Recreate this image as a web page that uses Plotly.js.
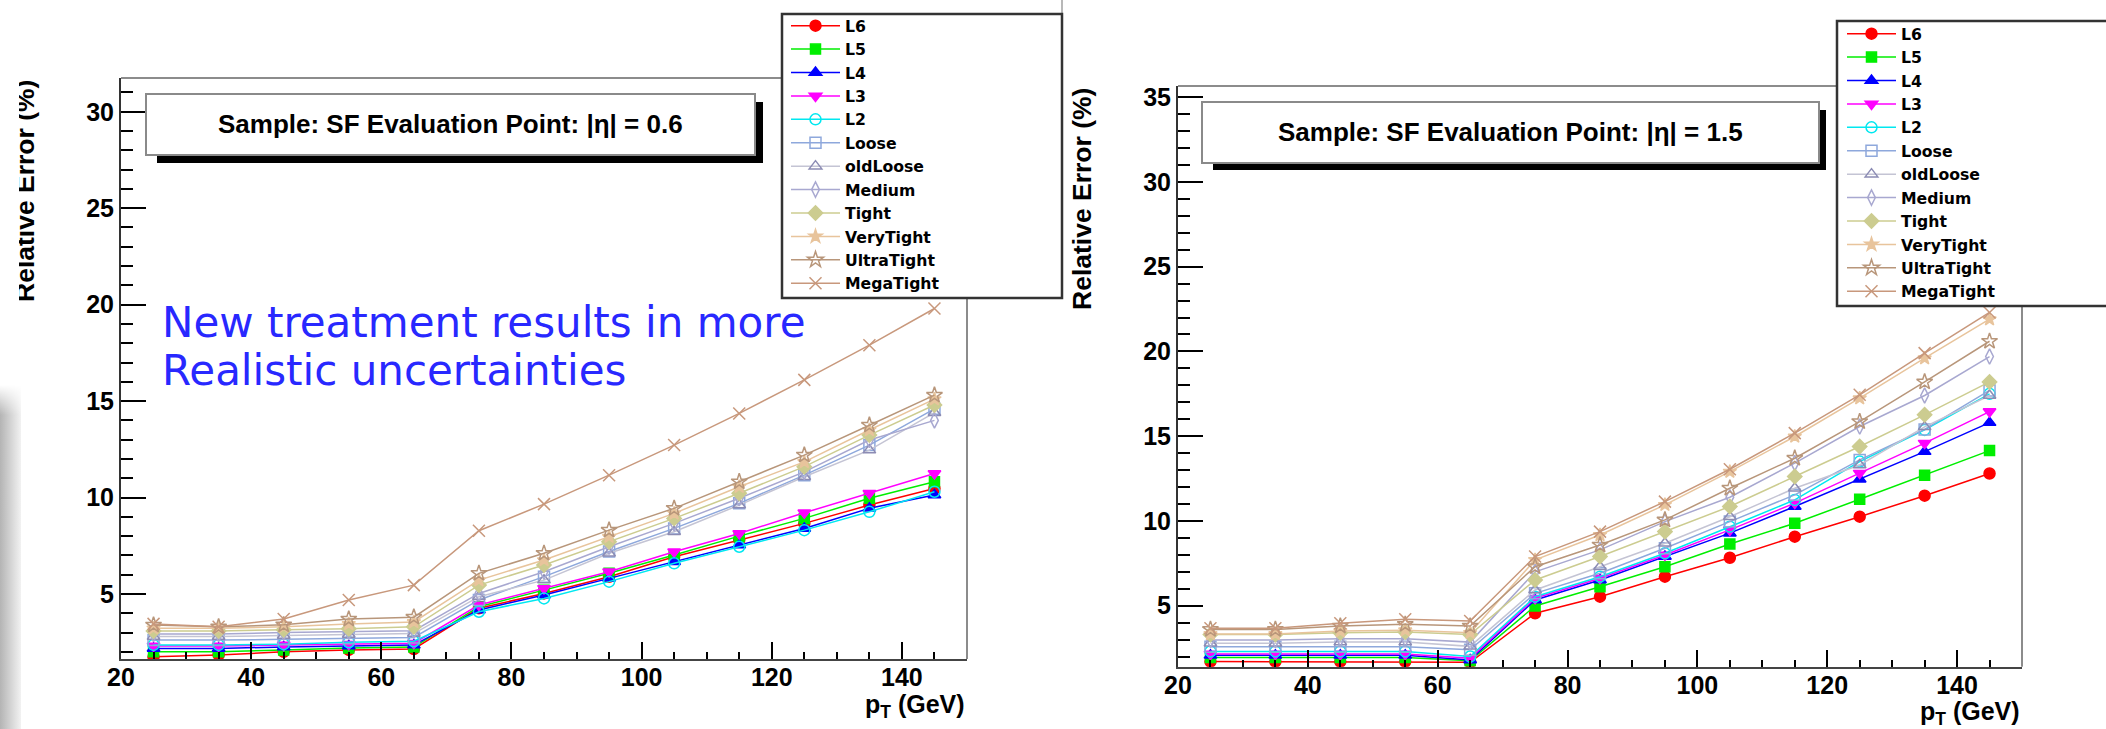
<!DOCTYPE html>
<html>
<head>
<meta charset="utf-8">
<script src="https://cdn.plot.ly/plotly-3.0.1.min.js"></script>
<style>
html,body{margin:0;padding:0;background:#fff;}
#wrap{position:relative;width:2106px;height:729px;overflow:hidden;}
#chart{position:absolute;left:0;top:0;width:2106px;height:729px;}
#clip{position:absolute;left:0;top:60px;width:19px;height:330px;background:#fff;z-index:5;}
#grad{position:absolute;left:0;top:385px;width:21px;height:344px;z-index:5;
 background:linear-gradient(to right,#b4b4b4,#f2f2f2);
 -webkit-mask-image:linear-gradient(to bottom,rgba(0,0,0,0),#000 30px);mask-image:linear-gradient(to bottom,rgba(0,0,0,0),#000 30px);}
</style>
</head>
<body>
<div id="wrap"><div id="chart"></div><div id="clip"></div><div id="grad"></div></div>
<script>
// ---------------- data ----------------
const pT = [25, 35, 45, 55, 65, 75, 85, 95, 105, 115, 125, 135, 145];
const seriesNames = ["L6", "L5", "L4", "L3", "L2", "Loose", "oldLoose", "Medium", "Tight", "VeryTight", "UltraTight", "MegaTight"];

// |eta| = 0.6
const eta06_L6         = [1.75, 1.84, 2.00, 2.10, 2.15, 4.26, 5.03, 5.89, 6.93, 7.80, 8.66, 9.61, 10.47];
const eta06_L5         = [2.00, 2.00, 2.10, 2.20, 2.25, 4.34, 5.20, 6.07, 7.02, 8.00, 8.92, 9.96, 10.82];
const eta06_L4         = [2.18, 2.18, 2.25, 2.30, 2.35, 4.17, 4.95, 5.81, 6.67, 7.54, 8.40, 9.44, 10.13];
const eta06_L3         = [2.30, 2.30, 2.35, 2.40, 2.45, 4.43, 5.29, 6.15, 7.19, 8.14, 9.21, 10.22, 11.25];
const eta06_L2         = [2.36, 2.36, 2.40, 2.50, 2.55, 4.08, 4.77, 5.64, 6.59, 7.45, 8.31, 9.26, 10.30];
const eta06_Loose      = [2.61, 2.61, 2.65, 2.70, 2.75, 4.69, 5.90, 7.20, 8.40, 9.70, 11.16, 12.72, 14.60];
const eta06_oldLoose   = [2.79, 2.79, 2.85, 2.90, 2.95, 4.86, 5.72, 7.11, 8.23, 9.61, 11.08, 12.46, 14.40];
const eta06_Medium     = [2.93, 2.93, 3.00, 3.05, 3.10, 5.03, 6.15, 7.45, 8.66, 9.96, 11.33, 12.98, 14.00];
const eta06_Tight      = [3.08, 3.08, 3.15, 3.20, 3.30, 5.46, 6.50, 7.71, 8.92, 10.22, 11.60, 13.24, 14.80];
const eta06_VeryTight  = [3.22, 3.22, 3.30, 3.45, 3.55, 5.72, 6.76, 7.97, 9.18, 10.56, 11.85, 13.50, 15.10];
const eta06_UltraTight = [3.39, 3.30, 3.40, 3.70, 3.80, 6.07, 7.11, 8.31, 9.44, 10.82, 12.20, 13.75, 15.31];
const eta06_MegaTight  = [3.45, 3.30, 3.70, 4.69, 5.46, 8.28, 9.66, 11.16, 12.72, 14.36, 16.10, 17.90, 19.80];

// |eta| = 1.5
const eta15_L6         = [1.70, 1.70, 1.70, 1.70, 1.66, 4.55, 5.53, 6.71, 7.83, 9.07, 10.25, 11.49, 12.80];
const eta15_L5         = [1.95, 1.95, 1.95, 1.95, 1.75, 4.98, 6.12, 7.30, 8.64, 9.86, 11.28, 12.70, 14.15];
const eta15_L4         = [2.07, 2.07, 2.07, 2.07, 1.80, 5.34, 6.52, 7.90, 9.28, 10.85, 12.46, 14.09, 15.80];
const eta15_L3         = [2.15, 2.15, 2.15, 2.15, 1.90, 5.44, 6.62, 7.99, 9.47, 11.05, 12.82, 14.59, 16.45];
const eta15_L2         = [2.30, 2.30, 2.30, 2.30, 2.00, 5.53, 6.71, 8.09, 9.66, 11.24, 13.50, 15.37, 17.50];
const eta15_Loose      = [2.58, 2.58, 2.58, 2.58, 2.40, 5.73, 6.91, 8.39, 9.96, 11.54, 13.60, 15.40, 17.70];
const eta15_oldLoose   = [2.78, 2.78, 2.85, 2.85, 2.60, 5.93, 7.30, 8.68, 10.25, 11.93, 13.30, 15.55, 17.40];
const eta15_Medium     = [2.98, 2.98, 3.05, 3.05, 2.85, 7.00, 8.29, 9.96, 11.40, 13.41, 15.57, 17.40, 19.70];
const eta15_Tight      = [3.30, 3.30, 3.40, 3.45, 3.30, 6.52, 7.90, 9.37, 10.85, 12.62, 14.39, 16.26, 18.20];
const eta15_VeryTight  = [3.33, 3.33, 3.50, 3.55, 3.40, 7.70, 9.17, 10.95, 12.91, 14.98, 17.24, 19.60, 21.90];
const eta15_UltraTight = [3.60, 3.60, 3.80, 3.90, 3.80, 7.30, 8.58, 10.06, 11.93, 13.70, 15.86, 18.20, 20.60];
const eta15_MegaTight  = [3.67, 3.67, 3.96, 4.20, 4.10, 7.90, 9.37, 11.14, 13.05, 15.18, 17.44, 19.90, 22.30];

const xTickVals = [20, 40, 60, 80, 100, 120, 140];
const yTickVals06 = [5, 10, 15, 20, 25, 30];
const yTickVals15 = [5, 10, 15, 20, 25, 30, 35];
const panelTitles = ["Sample: SF Evaluation Point: |η| = 0.6", "Sample: SF Evaluation Point: |η| = 1.5"];
const yTitle = "Relative Error (%)";
const xTitle = "p<sub>T</sub> (GeV)";
const noteLines = ["New treatment results in more", "Realistic uncertainties"];

// ---------------- styles ----------------
const W = 2106, H = 729;
const px = v => v / W;
const py = v => 1 - v / H;

const styles = [
  {color: "#ff0000", symbol: "circle", size: 11},
  {color: "#00ee00", symbol: "square", size: 10},
  {color: "#0000ff", symbol: "triangle-up", size: 11},
  {color: "#ff00ff", symbol: "triangle-down", size: 11},
  {color: "#00e8f0", symbol: "circle-open", size: 11},
  {color: "#8ea8dc", symbol: "square-open", size: 11},
  {color: "#8c8cb4", symbol: "triangle-up-open", size: 11, line: "#c4c4d4"},
  {color: "#a8a8d0", symbol: "diamond-tall-open", size: 11},
  {color: "#cccc90", symbol: "diamond", size: 11},
  {color: "#e8c49c", symbol: "star", size: 10},
  {color: "#b8967a", symbol: "star-open", size: 12},
  {color: "#c8987c", symbol: "x-thin-open", size: 12}
];

const left = [eta06_L6, eta06_L5, eta06_L4, eta06_L3, eta06_L2, eta06_Loose, eta06_oldLoose, eta06_Medium, eta06_Tight, eta06_VeryTight, eta06_UltraTight, eta06_MegaTight];
const right = [eta15_L6, eta15_L5, eta15_L4, eta15_L3, eta15_L2, eta15_Loose, eta15_oldLoose, eta15_Medium, eta15_Tight, eta15_VeryTight, eta15_UltraTight, eta15_MegaTight];

const traces = [];
function addTraces(vals, xa, ya, leg) {
  vals.forEach((ys, i) => {
    const s = styles[i];
    traces.push({
      type: "scatter", mode: "lines+markers", name: seriesNames[i],
      x: pT, y: ys, xaxis: xa, yaxis: ya, legend: leg,
      line: {color: s.line || s.color, width: 1.5},
      marker: {color: s.color, symbol: s.symbol, size: s.size, line: {color: s.color, width: 1.5}},
      hoverinfo: "x+y+name"
    });
  });
}
addTraces(left, "x", "y", "legend");
addTraces(right, "x2", "y2", "legend2");

const tickFont = {family: "Liberation Sans, Arial, sans-serif", size: 25, color: "#000", weight: "bold"};
function xAxis(domain, anchor) {
  return {
    domain: domain, anchor: anchor, range: [20, 150], showgrid: false, zeroline: false,
    tickmode: "array", tickvals: xTickVals, ticktext: xTickVals.map(String),
    ticks: "inside", ticklen: 17, tickwidth: 1.5, tickcolor: "#000",
    minor: {tickmode: "linear", tick0: 0, dtick: 5, ticks: "inside", ticklen: 7, tickwidth: 1.5, tickcolor: "#000", showgrid: false},
    showline: true, linecolor: "#444", linewidth: 2, mirror: false,
    ticklabelstandoff: -5,
    tickfont: tickFont, fixedrange: true
  };
}
function yAxis(domain, anchor, range, vals) {
  return {
    domain: domain, anchor: anchor, range: range, showgrid: false, zeroline: false,
    tickmode: "array", tickvals: vals, ticktext: vals.map(String),
    ticks: "inside", ticklen: 25, tickwidth: 1.5, tickcolor: "#000",
    minor: {tickmode: "linear", tick0: 0, dtick: 1, ticks: "inside", ticklen: 12, tickwidth: 1.5, tickcolor: "#000", showgrid: false},
    showline: true, linecolor: "#333", linewidth: 2, mirror: false,
    tickfont: tickFont, fixedrange: true
  };
}

const shapes = [];
function rect(x0, y0, x1, y1, fill, lineColor, lw) {
  shapes.push({type: "rect", xref: "paper", yref: "paper", x0: px(x0), x1: px(x1), y0: py(y1), y1: py(y0),
    fillcolor: fill, line: {color: lineColor, width: lw}, layer: "above"});
}
function seg(x0, y0, x1, y1, color, w, layer) {
  shapes.push({type: "line", xref: "paper", yref: "paper", x0: px(x0), x1: px(x1), y0: py(y0), y1: py(y1),
    line: {color: color, width: w}, layer: layer || "below"});
}
// frame top / right edges (lighter than the axes)
seg(121, 78, 967, 78, "#8c8c8c", 2);
seg(967, 78, 967, 659, "#8c8c8c", 2);
seg(1178, 86, 2022, 86, "#8c8c8c", 2);
seg(2022, 86, 2022, 666.7, "#8c8c8c", 2);
// edge of the right-hand picture
seg(1062, 0, 1062, 296, "#b8b8b8", 2);
// title boxes with shadow
rect(157, 102, 763, 163, "#000", "#000", 0);
rect(146, 94, 755, 155, "#fff", "#8a8a8a", 2);
rect(1213, 110, 1826, 170, "#000", "#000", 0);
rect(1202, 102, 1819, 163, "#fff", "#8a8a8a", 2);
// legend boxes
rect(782, 14, 1062, 298, "#fff", "#333", 2.5);
rect(1837, 21, 2140, 306, "#fff", "#333", 2.5);

const titleFont = {family: "Liberation Sans, Arial, sans-serif", size: 26, color: "#000", weight: "bold"};
const xTitleFont = {family: "Liberation Sans, Arial, sans-serif", size: 25, color: "#000", weight: "bold"};
const axTitleFont = {family: "Liberation Sans, Arial, sans-serif", size: 26.5, color: "#000", weight: "bold"};
const noteFont = {family: "DejaVu Sans, sans-serif", size: 42, color: "#2828ff"};
const annotations = [
  {text: panelTitles[0], x: px(450), y: py(124), xref: "paper", yref: "paper", xanchor: "center", yanchor: "middle", showarrow: false, font: titleFont},
  {text: panelTitles[1], x: px(1510), y: py(132), xref: "paper", yref: "paper", xanchor: "center", yanchor: "middle", showarrow: false, font: titleFont},
  {text: yTitle, x: px(25), y: py(191), xref: "paper", yref: "paper", xanchor: "center", yanchor: "middle", textangle: -90, showarrow: false, font: axTitleFont},
  {text: yTitle, x: px(1082), y: py(199), xref: "paper", yref: "paper", xanchor: "center", yanchor: "middle", textangle: -90, showarrow: false, font: axTitleFont},
  {text: xTitle, x: px(967), y: py(706), xref: "paper", yref: "paper", xanchor: "right", yanchor: "middle", showarrow: false, font: xTitleFont},
  {text: xTitle, x: px(2022), y: py(713), xref: "paper", yref: "paper", xanchor: "right", yanchor: "middle", showarrow: false, font: xTitleFont},
  {text: noteLines[0], x: px(160), y: py(322), xref: "paper", yref: "paper", xanchor: "left", yanchor: "middle", showarrow: false, font: noteFont},
  {text: noteLines[1], x: px(160), y: py(370), xref: "paper", yref: "paper", xanchor: "left", yanchor: "middle", showarrow: false, font: noteFont}
];

const legFont = {family: "DejaVu Sans, sans-serif", size: 15.7, color: "#000", weight: "bold"};
const layout = {
  width: W, height: H, autosize: false,
  margin: {l: 0, r: 0, t: 0, b: 0},
  paper_bgcolor: "#fff", plot_bgcolor: "rgba(0,0,0,0)",
  showlegend: true,
  xaxis: xAxis([px(121), px(967)], "y"),
  yaxis: yAxis([py(659), py(78)], "x", [1.63, 31.75], yTickVals06),
  xaxis2: xAxis([px(1178), px(2022)], "y2"),
  yaxis2: yAxis([py(666.7), py(86)], "x2", [1.4, 35.66], yTickVals15),
  legend: {x: px(786), y: py(9), xanchor: "left", yanchor: "top", bgcolor: "rgba(0,0,0,0)", borderwidth: 0,
    font: legFont, itemwidth: 49, tracegroupgap: 0, itemclick: false, itemdoubleclick: false},
  legend2: {x: px(1842), y: py(17), xanchor: "left", yanchor: "top", bgcolor: "rgba(0,0,0,0)", borderwidth: 0,
    font: legFont, itemwidth: 49, tracegroupgap: 0, itemclick: false, itemdoubleclick: false},
  shapes: shapes,
  annotations: annotations,
  hovermode: "closest"
};

Plotly.newPlot("chart", traces, layout, {displayModeBar: false});
</script>
</body>
</html>
